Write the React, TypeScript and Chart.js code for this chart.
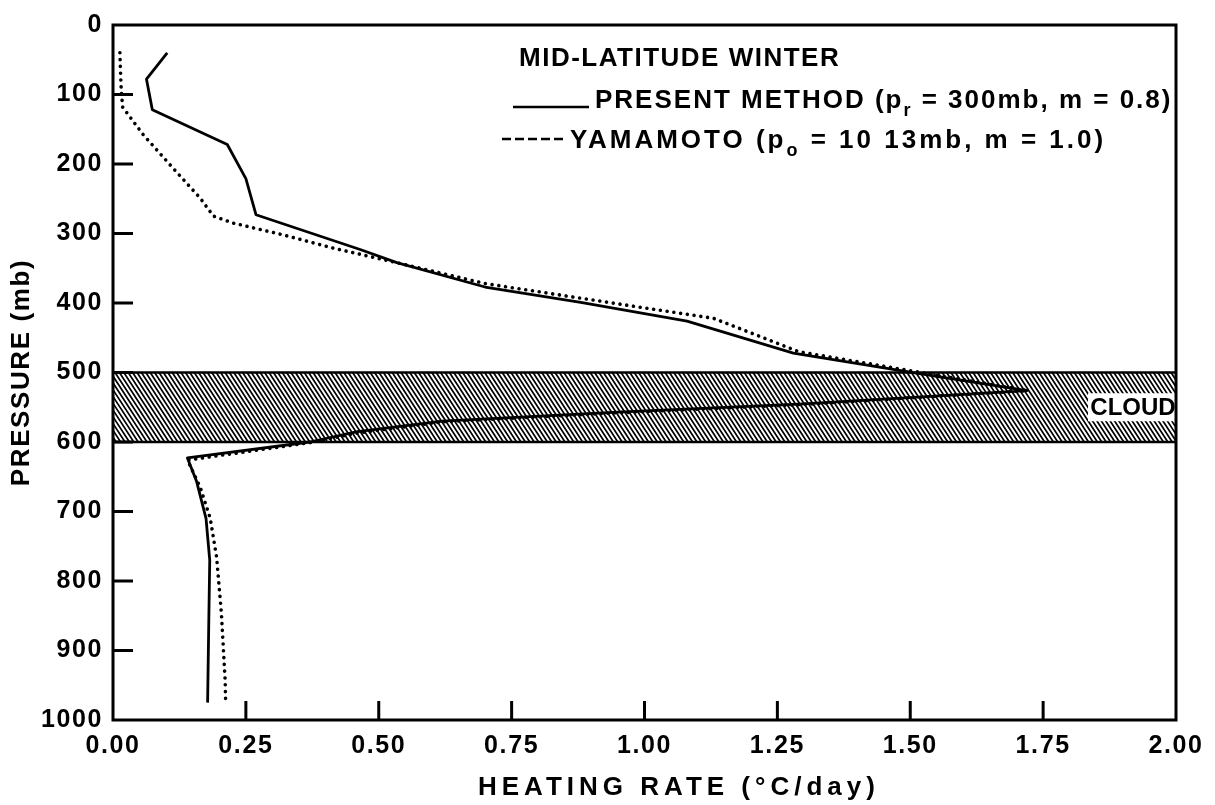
import React, { useEffect, useRef } from 'react';
import { Chart, registerables } from 'chart.js';

Chart.register(...registerables);

// ---- Data ----
// Present method (p_r = 300 mb, m = 0.8): heating rate (°C/day) vs pressure (mb)
const presentRate = [0.102, 0.063, 0.074, 0.215, 0.25, 0.269, 0.465, 0.534, 0.7, 0.88, 1.08, 1.28, 1.52, 1.72, 1.3, 0.95, 0.62, 0.46, 0.37, 0.14, 0.157, 0.175, 0.182, 0.18, 0.178];
const presentPressure = [40, 78, 122, 172, 221, 273, 323, 342, 377, 399, 426, 472, 502, 526, 545, 557, 570, 585, 600, 623, 656, 710, 770, 870, 975];

// Yamamoto (p_o = 1013 mb, m = 1.0)
const yamamotoRate = [0.013, 0.015, 0.018, 0.057, 0.113, 0.164, 0.189, 0.226, 0.32, 0.414, 0.534, 0.7, 0.88, 1.0, 1.13, 1.29, 1.52, 1.72, 1.3, 0.95, 0.62, 0.46, 0.37, 0.14, 0.164, 0.183, 0.195, 0.204, 0.211, 0.212];
const yamamotoPressure = [40, 86, 118, 158, 206, 249, 275, 285, 302, 321, 342, 372, 393, 407, 422, 470, 500, 526, 546, 558, 571, 587, 601, 626, 665, 710, 766, 847, 943, 975];

// Cloud layer (mb)
const cloudLayer = [500, 600];

// Axis tick values
const xTickValues = [0, 0.25, 0.5, 0.75, 1.0, 1.25, 1.5, 1.75, 2.0];
const yTickValues = [0, 100, 200, 300, 400, 500, 600, 700, 800, 900, 1000];

// Text
const legendTitle = 'MID-LATITUDE WINTER';
const legendPresent = [{ t: 'PRESENT METHOD (p' }, { t: 'r', sub: true }, { t: ' = 300mb, m = 0.8)' }];
const legendYamamoto = [{ t: 'YAMAMOTO (p' }, { t: 'o', sub: true }, { t: ' = 10 13mb, m = 1.0)' }];
const xTitle = 'HEATING RATE (°C/day)';
const yTitle = 'PRESSURE (mb)';
const cloudLabel = 'CLOUD';

const FONT = "'Liberation Sans', Arial, Helvetica, sans-serif";

function drawRich(ctx: any, x: number, baseline: number, parts: any[], size: number, spacing: number) {
  let cx = x;
  for (const p of parts) {
    const fs = p.sub ? Math.round(size * 0.7) : size;
    ctx.font = `bold ${fs}px ${FONT}`;
    ctx.letterSpacing = `${spacing}px`;
    const dy = p.sub ? size * 0.3 : 0;
    ctx.fillText(p.t, cx, baseline + dy);
    cx += ctx.measureText(p.t).width;
  }
}

const decorPlugin = {
  id: 'decor',
  beforeDraw(chart: any) {
    chart.ctx.letterSpacing = '1.6px';
  },
  beforeDatasetsDraw(chart: any) {
    const { ctx, chartArea, scales } = chart;
    const { left, right } = chartArea;
    const top = scales.y.getPixelForValue(cloudLayer[0]);
    const bot = scales.y.getPixelForValue(cloudLayer[1]);
    const h = bot - top;
    ctx.save();
    ctx.beginPath();
    ctx.rect(left, top, right - left, h);
    ctx.clip();
    ctx.strokeStyle = '#000';
    ctx.lineWidth = 1.7;
    const dx = h * 0.65;
    ctx.beginPath();
    for (let x0 = left - dx - 10; x0 < right + 10; x0 += 4.4) {
      ctx.moveTo(x0, top);
      ctx.lineTo(x0 + dx, bot);
    }
    ctx.stroke();
    ctx.restore();
    ctx.save();
    ctx.strokeStyle = '#000';
    ctx.lineWidth = 2.5;
    ctx.beginPath();
    ctx.moveTo(left, top);
    ctx.lineTo(right, top);
    ctx.moveTo(left, bot);
    ctx.lineTo(right, bot);
    ctx.stroke();
    ctx.restore();
  },
  afterDatasetsDraw(chart: any) {
    const { ctx, chartArea, scales } = chart;
    const { left, right, top, bottom } = chartArea;
    ctx.save();
    ctx.letterSpacing = '0px';
    // CLOUD label
    const cTop = scales.y.getPixelForValue(cloudLayer[0]);
    const cBot = scales.y.getPixelForValue(cloudLayer[1]);
    const cMid = (cTop + cBot) / 2;
    ctx.fillStyle = '#fff';
    ctx.fillRect(1088, cMid - 14, right - 1088, 28);
    ctx.fillStyle = '#000';
    ctx.font = `bold 24px ${FONT}`;
    ctx.textAlign = 'center';
    ctx.textBaseline = 'middle';
    ctx.fillText(cloudLabel, 1133, cMid + 1);

    // frame
    ctx.strokeStyle = '#000';
    ctx.lineWidth = 3;
    ctx.strokeRect(left, top, right - left, bottom - top);

    // inward tick marks
    ctx.lineWidth = 3;
    ctx.beginPath();
    for (const v of yTickValues) {
      if (v <= 0 || v >= 1000) continue;
      const py = scales.y.getPixelForValue(v);
      ctx.moveTo(left, py);
      ctx.lineTo(left + 20, py);
    }
    for (const v of xTickValues) {
      if (v <= 0 || v >= 2) continue;
      const px = scales.x.getPixelForValue(v);
      ctx.moveTo(px, bottom);
      ctx.lineTo(px, bottom - 19);
    }
    ctx.stroke();

    // legend
    ctx.textAlign = 'left';
    ctx.textBaseline = 'alphabetic';
    ctx.fillStyle = '#000';
    ctx.font = `bold 26px ${FONT}`;
    ctx.letterSpacing = '1.5px';
    ctx.fillText(legendTitle, 519, 66);

    ctx.lineWidth = 2.5;
    ctx.setLineDash([]);
    ctx.beginPath();
    ctx.moveTo(513, 107);
    ctx.lineTo(589, 107);
    ctx.stroke();
    drawRich(ctx, 595, 108, legendPresent, 26, 2.0);

    ctx.setLineDash([9, 4]);
    ctx.beginPath();
    ctx.moveTo(502, 139);
    ctx.lineTo(565, 139);
    ctx.stroke();
    ctx.setLineDash([]);
    drawRich(ctx, 570, 148, legendYamamoto, 26, 3.0);

    // x-axis title
    ctx.font = `bold 26px ${FONT}`;
    ctx.letterSpacing = '5px';
    ctx.textBaseline = 'middle';
    ctx.fillText(xTitle, 478, 788);
    ctx.restore();
  },
};

export default function App() {
  const ref = useRef<HTMLCanvasElement | null>(null);

  useEffect(() => {
    if (!ref.current) return;
    const tickFont = { family: FONT, size: 25, weight: 'bold' as const };
    const chart = new Chart(ref.current, {
      type: 'line',
      data: {
        datasets: [
          {
            label: 'PRESENT METHOD',
            data: presentRate.map((r, i) => ({ x: r, y: presentPressure[i] })),
            borderColor: '#000',
            borderWidth: 2.8,
            pointRadius: 0,
            tension: 0,
            fill: false,
            borderJoinStyle: 'round',
          },
          {
            label: 'YAMAMOTO',
            data: yamamotoRate.map((r, i) => ({ x: r, y: yamamotoPressure[i] })),
            borderColor: '#000',
            borderWidth: 3.6,
            borderDash: [0.01, 6.8],
            borderCapStyle: 'round',
            pointRadius: 0,
            tension: 0,
            fill: false,
          },
        ],
      },
      options: {
        responsive: false,
        animation: false,
        events: [],
        layout: { padding: { top: 23, right: 39, left: 0, bottom: 0 } },
        plugins: { legend: { display: false }, tooltip: { enabled: false } },
        scales: {
          x: {
            type: 'linear',
            min: 0,
            max: 2,
            afterFit: (s: any) => {
              s.height = 85;
            },
            afterBuildTicks: (s: any) => {
              s.ticks = xTickValues.map((v) => ({ value: v }));
            },
            ticks: {
              stepSize: 0.25,
              autoSkip: false,
              maxRotation: 0,
              padding: 11,
              color: '#000',
              font: tickFont,
              callback: (v: any) => Number(v).toFixed(2),
            },
            grid: { display: false, drawTicks: false },
            border: { display: false },
          },
          y: {
            type: 'linear',
            reverse: true,
            min: 0,
            max: 1000,
            afterFit: (s: any) => {
              s.width = 113;
            },
            afterBuildTicks: (s: any) => {
              s.ticks = yTickValues.map((v) => ({ value: v }));
            },
            ticks: {
              stepSize: 100,
              autoSkip: false,
              padding: 10,
              color: '#000',
              font: tickFont,
              callback: (v: any) => String(v),
            },
            title: {
              display: true,
              text: yTitle,
              color: '#000',
              font: { family: FONT, size: 26, weight: 'bold' },
              padding: { top: 6, bottom: 0 },
            },
            grid: { display: false, drawTicks: false },
            border: { display: false },
          },
        },
      } as any,
      plugins: [decorPlugin],
    });
    return () => chart.destroy();
  }, []);

  return (
    <div style={{ position: 'absolute', left: 0, top: 0, width: 1215, height: 805, background: '#fff' }}>
      <canvas ref={ref} width={1215} height={805} style={{ display: 'block', width: 1215, height: 805 }} />
    </div>
  );
}
